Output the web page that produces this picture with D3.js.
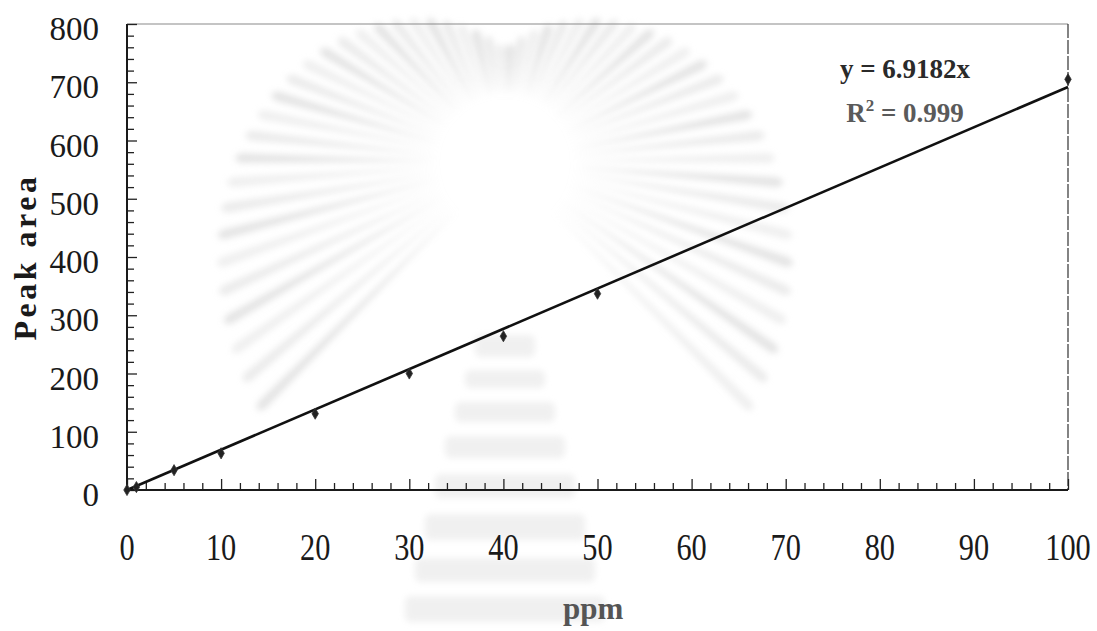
<!DOCTYPE html>
<html>
<head>
<meta charset="utf-8">
<script src="https://cdn.jsdelivr.net/npm/d3@7"></script>
<style>
  html, body { margin: 0; padding: 0; background: #fff; }
  svg { display: block; font-family: "Liberation Serif", "Times New Roman", serif; }
</style>
</head>
<body>
<svg id="chart" width="1097" height="631"></svg>
<script>
// Calibration standards: concentration (ppm) and measured peak area
const concentrations = [0, 1, 5, 10, 20, 30, 40, 50, 100];
const peakAreas      = [0, 5, 34, 63, 131, 200, 264, 337, 705];

// Linear fit through the origin, as reported on the chart
const fitSlope = 6.9182;
const fitR2 = 0.999;

// Axis ticks
const xMajorTicks = [0, 10, 20, 30, 40, 50, 60, 70, 80, 90, 100];
const yMajorTicks = [0, 100, 200, 300, 400, 500, 600, 700, 800];
const xMinorStep = 2;
const yMinorStep = 20;

const xTitle = "ppm";
const yTitle = "Peak area";

const svg = d3.select("#chart");
const plot = { left: 127, right: 1068, top: 24, bottom: 490 };

const x = d3.scaleLinear().domain([0, 100]).range([plot.left, plot.right]);
const y = d3.scaleLinear().domain([0, 800]).range([plot.bottom, plot.top]);

const xMinorTicks = d3.range(0, 100 + 1e-9, xMinorStep).filter(v => v % 10 !== 0);
const yMinorTicks = d3.range(0, 800 + 1e-9, yMinorStep).filter(v => v % 100 !== 0);

// Faint seal in the page background: soft rays fanning out from a blank disc,
// with a pale pedestal underneath
const defs = svg.append("defs");
defs.append("filter").attr("id", "soft")
  .attr("x", "-20%").attr("y", "-20%").attr("width", "140%").attr("height", "140%")
  .append("feGaussianBlur").attr("stdDeviation", 3);

const seal = svg.append("g").attr("filter", "url(#soft)").attr("opacity", 0.5);
const sealCx = 505, sealCy = 162;
const rayCount = 54;
const rayAngles = d3.range(rayCount).map(i => -135 + (270 * i) / (rayCount - 1));
seal.selectAll("path.ray")
  .data(rayAngles)
  .join("path")
  .attr("class", "ray")
  .attr("fill", (a, i) => (i % 3 === 0 ? "#cbcbcb" : i % 3 === 1 ? "#d8d8d8" : "#e0e0e0"))
  .attr("d", a => {
    const t = (a - 90) * Math.PI / 180;       // 0 degrees points straight up
    const r0 = 66;
    const r1 = 120 + 1.75 * Math.abs(a);      // rays lengthen towards the lower sides
    const halfW = 5;
    const ux = Math.cos(t), uy = Math.sin(t), nx = -uy, ny = ux;
    const ax = sealCx + ux * r0, ay = sealCy + uy * r0;
    const tx = sealCx + ux * r1, ty = sealCy + uy * r1;
    const bx = sealCx + ux * (r1 - 12) + nx * halfW, by = sealCy + uy * (r1 - 12) + ny * halfW;
    const dx = sealCx + ux * (r1 - 12) - nx * halfW, dy = sealCy + uy * (r1 - 12) - ny * halfW;
    return `M${ax},${ay}L${bx},${by}Q${tx},${ty} ${dx},${dy}Z`;
  });
const pedestal = [
  { w: 60, y: 335, h: 22 }, { w: 80, y: 370, h: 18 }, { w: 100, y: 402, h: 20 },
  { w: 120, y: 436, h: 22 }, { w: 140, y: 474, h: 24 }, { w: 160, y: 514, h: 26 },
  { w: 180, y: 558, h: 24 }, { w: 200, y: 596, h: 26 }
];
seal.selectAll("rect.step")
  .data(pedestal)
  .join("rect")
  .attr("class", "step")
  .attr("x", d => sealCx - d.w / 2).attr("y", d => d.y)
  .attr("width", d => d.w).attr("height", d => d.h)
  .attr("rx", 6)
  .attr("fill", "#e2e2e2");

// Frame: top and right edges are light, left and bottom axes are heavy
svg.append("line")
  .attr("x1", plot.left).attr("x2", plot.right)
  .attr("y1", plot.top).attr("y2", plot.top)
  .attr("stroke", "#8a8a8a").attr("stroke-width", 1.2);
svg.append("line")
  .attr("x1", plot.right).attr("x2", plot.right)
  .attr("y1", plot.top).attr("y2", plot.bottom)
  .attr("stroke", "#333").attr("stroke-width", 1.2)
  .attr("stroke-dasharray", "14,2");

// Inward ticks on the x axis
const xAxisMajor = d3.axisTop(x).tickValues(xMajorTicks).tickSize(11).tickFormat("");
const xAxisMinor = d3.axisTop(x).tickValues(xMinorTicks).tickSize(7).tickFormat("");
const gxMinor = svg.append("g").attr("transform", `translate(0,${plot.bottom})`).call(xAxisMinor);
const gxMajor = svg.append("g").attr("transform", `translate(0,${plot.bottom})`).call(xAxisMajor);
[gxMinor, gxMajor].forEach(g => {
  g.select(".domain").remove();
  g.selectAll(".tick line").attr("stroke", "#222").attr("stroke-width", 1.3);
});

// Inward ticks on the y axis
const yAxisMajor = d3.axisRight(y).tickValues(yMajorTicks).tickSize(10).tickFormat("");
const yAxisMinor = d3.axisRight(y).tickValues(yMinorTicks).tickSize(7).tickFormat("");
const gyMinor = svg.append("g").attr("transform", `translate(${plot.left},0)`).call(yAxisMinor);
const gyMajor = svg.append("g").attr("transform", `translate(${plot.left},0)`).call(yAxisMajor);
[gyMinor, gyMajor].forEach(g => {
  g.select(".domain").remove();
  g.selectAll(".tick line").attr("stroke", "#222").attr("stroke-width", 1.3);
});

// Axis lines
svg.append("line")
  .attr("x1", plot.left).attr("x2", plot.right)
  .attr("y1", plot.bottom).attr("y2", plot.bottom)
  .attr("stroke", "#1a1a1a").attr("stroke-width", 2.2);
svg.append("line")
  .attr("x1", plot.left).attr("x2", plot.left)
  .attr("y1", plot.top).attr("y2", plot.bottom)
  .attr("stroke", "#1a1a1a").attr("stroke-width", 2);

// Tick labels
svg.append("g").selectAll("text")
  .data(yMajorTicks)
  .join("text")
  .attr("x", 99)
  .attr("y", d => y(d) + 16)
  .attr("text-anchor", "end")
  .attr("font-size", 33)
  .attr("fill", "#1a1a1a")
  .text(d => d);

svg.append("g").selectAll("text")
  .data(xMajorTicks)
  .join("text")
  .attr("transform", d => `translate(${x(d)},${plot.bottom + 70}) scale(0.82,1)`)
  .attr("text-anchor", "middle")
  .attr("font-size", 37)
  .attr("fill", "#1a1a1a")
  .text(d => d);

// Axis titles
svg.append("text")
  .attr("x", 563).attr("y", 619)
  .attr("font-size", 31)
  .attr("font-weight", "bold")
  .attr("fill", "#555")
  .text(xTitle);

svg.append("text")
  .attr("transform", `translate(36,257) rotate(-90)`)
  .attr("text-anchor", "middle")
  .attr("font-size", 32)
  .attr("font-weight", "bold")
  .attr("letter-spacing", 3.5)
  .attr("fill", "#1a1a1a")
  .text(yTitle);

// Trendline
const fitLine = d3.line().x(d => x(d)).y(d => y(fitSlope * d));
svg.append("path")
  .datum([0, 100])
  .attr("d", fitLine)
  .attr("fill", "none")
  .attr("stroke", "#111")
  .attr("stroke-width", 2.6);

// Data points
const points = concentrations.map((c, i) => ({ c, a: peakAreas[i] }));
svg.append("g").selectAll("path")
  .data(points)
  .join("path")
  .attr("transform", d => `translate(${x(d.c)},${y(d.a)})`)
  .attr("d", d3.symbol(d3.symbolDiamond, 36))
  .attr("fill", "#222")
  .attr("stroke", "#333")
  .attr("stroke-width", 0.8);

// Equation annotation
const eq = svg.append("g").attr("font-weight", "bold").attr("text-anchor", "middle");
eq.append("text")
  .attr("x", 905).attr("y", 78)
  .attr("font-size", 27)
  .attr("fill", "#2a2a2a")
  .text(`y = ${fitSlope}x`);
const r2 = eq.append("text")
  .attr("x", 905).attr("y", 122)
  .attr("font-size", 27)
  .attr("fill", "#5a5a5a");
r2.append("tspan").text("R");
r2.append("tspan").attr("font-size", 17).attr("dy", -11).text("2");
r2.append("tspan").attr("dy", 11).text(` = ${fitR2}`);
</script>
</body>
</html>
